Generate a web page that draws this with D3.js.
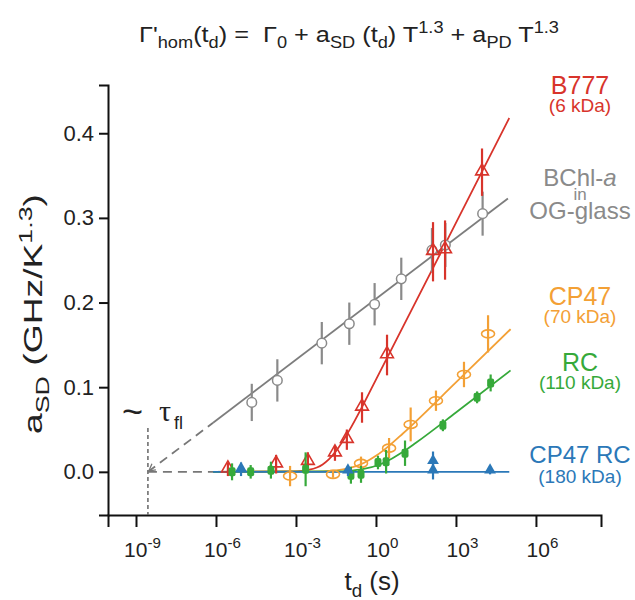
<!DOCTYPE html>
<html>
<head>
<meta charset="utf-8">
<script src="https://cdn.jsdelivr.net/npm/d3@7"></script>
<style>
  body { margin: 0; background: #fff; }
  svg { font-family: "Liberation Sans", Arial, sans-serif; }
  text { white-space: pre; }
</style>
</head>
<body>
<svg id="chart" width="635" height="600"></svg>
<script>
// decay times t_d in seconds, a_SD values in GHz/K^1.3, symmetric error bars
const redT = [2.8e-6, 1.8e-4, 2.8e-3, 0.029, 0.081, 0.30, 2.6, 138, 390, 9500];
const redVal = [0.003, 0.009, 0.012, 0.022, 0.038, 0.076, 0.138, 0.26, 0.262, 0.354];
const redErr = [0.008, 0.011, 0.011, 0.009, 0.012, 0.018, 0.024, 0.035, 0.035, 0.028];

const grayT = [2.2e-5, 2.0e-4, 9.3e-3, 0.1, 0.89, 8.9, 126, 400, 1.0e4];
const grayVal = [0.082, 0.108, 0.152, 0.175, 0.198, 0.228, 0.262, 0.268, 0.305];
const grayErr = [0.022, 0.025, 0.025, 0.025, 0.025, 0.025, 0.026, 0.026, 0.026];

const orangeT = [6.0e-4, 0.0245, 0.275, 3.1, 20, 178, 2000, 1.6e4];
const orangeVal = [-0.005, -0.003, 0.01, 0.028, 0.056, 0.084, 0.115, 0.163];
const orangeErr = [0.012, 0.004, 0.008, 0.012, 0.02, 0.012, 0.015, 0.022];

const greenT = [4.0e-6, 2.0e-5, 1.15e-4, 2.3e-3, 0.115, 0.275, 1.19, 2.4, 12.3, 324, 6200, 2.0e4];
const greenVal = [0.0, 0.0, 0.002, 0.003, -0.004, -0.003, 0.011, 0.012, 0.022, 0.055, 0.088, 0.105];
const greenErr = [0.01, 0.008, 0.01, 0.02, 0.01, 0.01, 0.008, 0.014, 0.015, 0.007, 0.007, 0.01];

const blueT = [8.7e-6, 0.089, 138, 138, 1.9e4];
const blueVal = [0.003, 0.001, 0.012, 0.001, 0.001];
const blueErr = [0.008, 0.006, 0.012, 0.01, 0.004];

// fitted curves
const redFitT = [7.8e-7, 1e-3, 3.2e-3, 0.01, 0.0174, 0.0316, 0.1, 0.316, 1, 316, 1e5];
const redFitVal = [0, 0.0006, 0.0025, 0.0088, 0.015, 0.0245, 0.049, 0.078, 0.109, 0.263, 0.418];
const orangeFitT = [7.8e-7, 3.2e-3, 0.0316, 0.1, 0.363, 1, 3.16, 10, 1000, 1.12e5];
const orangeFitVal = [0, 0.0002, 0.0017, 0.0043, 0.0107, 0.0189, 0.031, 0.045, 0.1056, 0.1685];
const greenFitT = [7.8e-7, 0.0316, 0.1, 0.316, 1.32, 3.16, 10, 31.6, 1000, 1.12e5];
const greenFitVal = [0, 0.0004, 0.0012, 0.0031, 0.0084, 0.0139, 0.0233, 0.0343, 0.070, 0.1198];
const grayFitT = [7.8e-7, 8.9e4];
const grayFitVal = [0.058, 0.323];
const blueFitT = [7.8e-7, 1e5];
const blueFitVal = [0, 0];
const tauFl = 2.8e-9;

const xTicks = [1e-9, 1e-6, 1e-3, 1, 1e3, 1e6];
const yTicks = [0, 0.1, 0.2, 0.3, 0.4];

const colors = { red: '#d8342b', gray: '#8a8a8a', orange: '#f3a035', green: '#36a93a', blue: '#2b78b8' };

const svg = d3.select('#chart');

const x = d3.scaleLog().domain([Math.pow(10, -10.05), Math.pow(10, 8.44)]).range([108, 601]);
const y = d3.scaleLinear().domain([-0.051, 0.457]).range([515, 85]);

// text with sub/superscripts
function rich(sel, parts, size) {
  let shift = 0;
  parts.forEach(([str, mode]) => {
    const target = mode === 'sub' ? 0.28 : mode === 'sup' ? -0.42 : 0;
    const ts = sel.append('tspan').text(str).attr('dy', (target - shift) * size);
    if (mode) ts.attr('font-size', size * 0.72);
    shift = target;
  });
  return sel;
}

// title
rich(svg.append('text')
    .attr('x', 349).attr('y', 42)
    .attr('text-anchor', 'middle')
    .attr('font-size', 22).attr('fill', '#222')
    .attr('textLength', 420).attr('lengthAdjust', 'spacingAndGlyphs'),
  [['\u0393', ''], ["'", ''], ['hom', 'sub'], ['(t', ''], ['d', 'sub'], [') =  \u0393', ''], ['0', 'sub'],
   [' + a', ''], ['SD', 'sub'], [' (t', ''], ['d', 'sub'], [') T', ''], ['1.3', 'sup'],
   [' + a', ''], ['PD', 'sub'], [' T', ''], ['1.3', 'sup']], 22);

// axes
const xAxis = svg.append('g')
  .attr('transform', 'translate(0,515)')
  .call(d3.axisBottom(x).tickValues(xTicks).tickSizeOuter(0).tickSize(12).tickFormat(''));
xAxis.selectAll('.tick').each(function(d) {
  const t = d3.select(this).append('text')
    .attr('y', 42).attr('x', 6)
    .attr('text-anchor', 'middle')
    .attr('fill', '#222').attr('font-size', 21);
  rich(t, [['10', ''], [String(Math.round(Math.log10(d))), 'sup']], 21);
});

const yAxis = svg.append('g')
  .attr('transform', 'translate(108,0)')
  .call(d3.axisLeft(y).tickValues(yTicks).tickSizeOuter(0).tickSize(9).tickFormat(d3.format('.1f')));
yAxis.selectAll('.tick text')
  .attr('font-size', 22).attr('fill', '#222').attr('x', -14);

svg.selectAll('.domain').attr('stroke', '#111').attr('stroke-width', 2);
svg.selectAll('.tick line').attr('stroke', '#111').attr('stroke-width', 2);
svg.selectAll('.tick text').attr('font-family', '"Liberation Sans", Arial, sans-serif');

// axis titles
rich(svg.append('text')
    .attr('x', 372).attr('y', 590)
    .attr('text-anchor', 'middle')
    .attr('font-size', 26).attr('fill', '#222'),
  [['t', ''], ['d', 'sub'], [' (s)', '']], 26);

rich(svg.append('text')
    .attr('transform', 'translate(42,314) rotate(-90)')
    .attr('text-anchor', 'middle')
    .attr('font-size', 25).attr('fill', '#222')
    .attr('textLength', 240).attr('lengthAdjust', 'spacingAndGlyphs'),
  [['a', ''], ['SD', 'sub'], [' (GHz/K', ''], ['1.3', 'sup'], [')', '']], 25);

// tau_fl marker
svg.append('line')
  .attr('x1', x(tauFl)).attr('x2', x(tauFl))
  .attr('y1', 428).attr('y2', 515)
  .attr('stroke', '#666').attr('stroke-width', 1.5).attr('stroke-dasharray', '4,3');
svg.append('text').attr('x', 122).attr('y', 424).attr('font-size', 36).attr('fill', '#222').text('~');
svg.append('text').attr('x', 159).attr('y', 421).attr('font-size', 30)
  .attr('font-family', '"Liberation Serif", serif').attr('fill', '#222').text('\u03c4');
svg.append('text').attr('x', 174).attr('y', 429).attr('font-size', 18).attr('fill', '#222').text('fl');

const line = d3.line().x(d => x(d[0])).y(d => y(d[1]));
const curve = d3.line().x(d => x(d[0])).y(d => y(d[1])).curve(d3.curveMonotoneX);

// dashed extrapolations back to tau_fl
svg.append('path')
  .attr('d', line([[tauFl, 0], [grayFitT[0], grayFitVal[0]]]))
  .attr('fill', 'none').attr('stroke', '#777').attr('stroke-width', 1.8).attr('stroke-dasharray', '9,6');
svg.append('path')
  .attr('d', line([[tauFl, 0], [redFitT[0], 0]]))
  .attr('fill', 'none').attr('stroke', '#777').attr('stroke-width', 1.8).attr('stroke-dasharray', '9,6');
// small arrow head at tau_fl
const ax = x(tauFl), ay = y(0);
svg.append('path')
  .attr('d', `M${ax + 8},${ay - 2} L${ax + 1},${ay - 1} L${ax + 4},${ay - 8}`)
  .attr('fill', 'none').attr('stroke', '#777').attr('stroke-width', 1.3);

function drawFit(ts, vs, color, smooth) {
  const pts = ts.map((t, i) => [t, vs[i]]);
  svg.append('path')
    .attr('d', (smooth ? curve : line)(pts))
    .attr('fill', 'none').attr('stroke', color).attr('stroke-width', 1.8);
}
drawFit(grayFitT, grayFitVal, '#7d7d7d', false);
drawFit(redFitT, redFitVal, colors.red, true);
drawFit(orangeFitT, orangeFitVal, colors.orange, true);
drawFit(greenFitT, greenFitVal, colors.green, true);
drawFit(blueFitT, blueFitVal, colors.blue, false);

function drawPoints(ts, vs, es, color, marker) {
  const data = ts.map((t, i) => ({ t: t, v: vs[i], e: es[i] }));
  const g = svg.append('g');
  g.selectAll('line').data(data).enter().append('line')
    .attr('x1', d => x(d.t)).attr('x2', d => x(d.t))
    .attr('y1', d => y(d.v - d.e)).attr('y2', d => y(d.v + d.e))
    .attr('stroke', color).attr('stroke-width', 2.2);
  const m = g.selectAll('.m').data(data).enter();
  if (marker === 'circle') {
    m.append('circle').attr('cx', d => x(d.t)).attr('cy', d => y(d.v)).attr('r', 4.8)
      .attr('fill', '#fff').attr('stroke', color).attr('stroke-width', 1.5);
  } else if (marker === 'ellipse') {
    m.append('ellipse').attr('cx', d => x(d.t)).attr('cy', d => y(d.v)).attr('rx', 6.5).attr('ry', 4)
      .attr('fill', 'none').attr('stroke', color).attr('stroke-width', 1.6);
  } else if (marker === 'opentri') {
    m.append('path').attr('d', d3.symbol(d3.symbolTriangle, 70))
      .attr('transform', d => `translate(${x(d.t)},${y(d.v) - 1})`)
      .attr('fill', 'none').attr('stroke', color).attr('stroke-width', 1.6);
  } else if (marker === 'tri') {
    m.append('path').attr('d', d3.symbol(d3.symbolTriangle, 60))
      .attr('transform', d => `translate(${x(d.t)},${y(d.v) - 1})`)
      .attr('fill', color);
  } else {
    m.append('rect').attr('x', d => x(d.t) - 3.5).attr('y', d => y(d.v) - 4.5)
      .attr('width', 7).attr('height', 9).attr('rx', 2)
      .attr('fill', color);
  }
}
drawPoints(grayT, grayVal, grayErr, colors.gray, 'circle');
drawPoints(orangeT, orangeVal, orangeErr, colors.orange, 'ellipse');
drawPoints(redT, redVal, redErr, colors.red, 'opentri');
drawPoints(greenT, greenVal, greenErr, colors.green, 'rect');
drawPoints(blueT, blueVal, blueErr, colors.blue, 'tri');

// series labels
function label(lines, color) {
  lines.forEach(([str, yy, size, italicTail]) => {
    const t = svg.append('text').attr('x', 580).attr('y', yy)
      .attr('text-anchor', 'middle').attr('font-size', size).attr('fill', color);
    if (italicTail) {
      t.append('tspan').text(str);
      t.append('tspan').attr('font-style', 'italic').text(italicTail);
    } else {
      t.text(str);
    }
  });
}
label([['B777', 94, 25], ['(6 kDa)', 112, 19]], colors.red);
label([['BChl-', 186, 24, 'a'], ['in', 200, 17], ['OG-glass', 219, 24]], colors.gray);
label([['CP47', 305, 25], ['(70 kDa)', 323, 19]], colors.orange);
label([['RC', 371, 25], ['(110 kDa)', 389, 19]], colors.green);
label([['CP47 RC', 463, 24], ['(180 kDa)', 483, 19]], colors.blue);
</script>
</body>
</html>
